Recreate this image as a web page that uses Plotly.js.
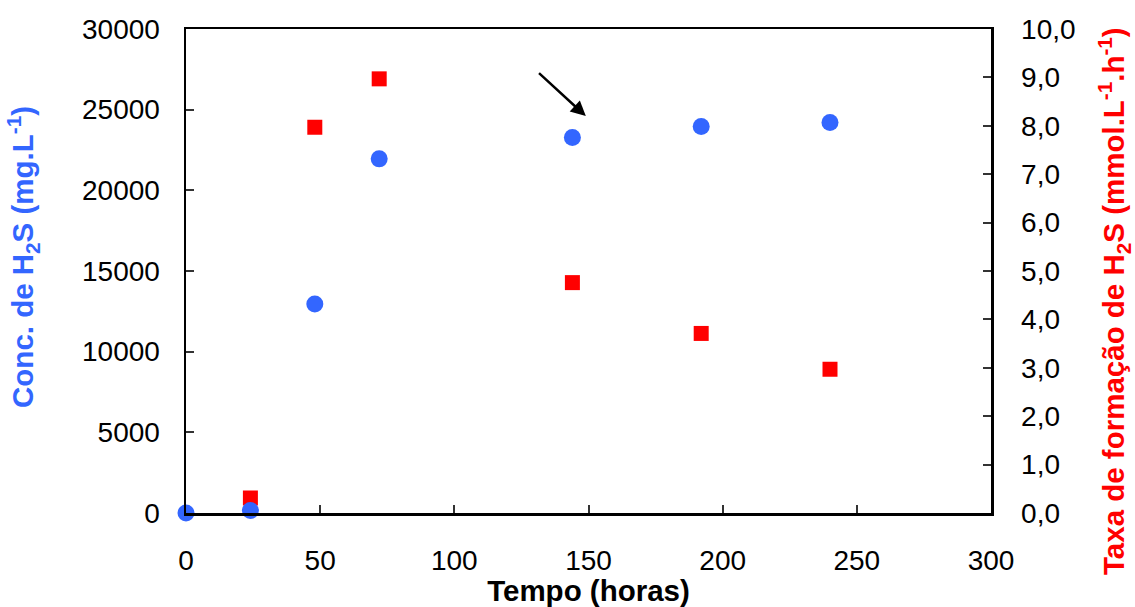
<!DOCTYPE html>
<html>
<head>
<meta charset="utf-8">
<script src="https://cdn.plot.ly/plotly-3.0.1.min.js"></script>
<style>html,body{margin:0;padding:0;background:#fff;}#chart{width:1135px;height:607px;}</style>
</head>
<body>
<div id="chart"></div>
<script>
// Time (hours)
const tempoConc = [0, 24, 48, 72, 144, 192, 240];
// H2S concentration (mg.L-1)
const concH2S = [0, 150, 12950, 21950, 23280, 23950, 24200];
// Time for formation rate
const tempoTaxa = [24, 48, 72, 144, 192, 240];
// H2S formation rate (mmol.L-1.h-1)
const taxaH2S = [0.31, 7.97, 8.97, 4.76, 3.71, 2.97];
// Arrow annotation (data coords): tail -> head
const arrowTail = [131, 27350];
const arrowHead = [149, 24600];

const font = 'Liberation Sans, Arial, sans-serif';
const blue = '#3366ff';
const red = '#ff0000';

const traces = [
  {
    x: tempoTaxa, y: taxaH2S, type: 'scatter', mode: 'markers', yaxis: 'y',
    marker: {symbol: 'square', size: 15, color: red}, cliponaxis: false,
    name: 'Taxa'
  },
  {
    x: tempoConc, y: concH2S, type: 'scatter', mode: 'markers', yaxis: 'y2',
    marker: {symbol: 'circle', size: 17, color: blue}, cliponaxis: false,
    name: 'Conc'
  }
];

const layout = {
  width: 1135, height: 607,
  margin: {l: 186, r: 144, t: 29, b: 94},
  paper_bgcolor: '#fff', plot_bgcolor: '#fff',
  showlegend: false,
  separators: ',.',
  font: {family: font, size: 28, color: '#000'},
  xaxis: {
    range: [0, 300], dtick: 50, tick0: 0,
    showline: true, linecolor: '#000', linewidth: 2.5, mirror: true,
    ticks: 'inside', ticklen: 8, tickwidth: 2, tickcolor: '#333',
    showgrid: false, zeroline: false,
    ticklabelstandoff: 21,
    tickfont: {family: font, size: 28, color: '#000'},
    title: {text: 'Tempo (horas)', font: {family: font, size: 29.5, color: '#000', weight: 'bold'}, standoff: 2}
  },
  yaxis: {
    side: 'right',
    range: [0, 10], dtick: 1, tick0: 0, tickformat: '.1f',
    showline: true, linecolor: '#000', linewidth: 2.5,
    ticks: 'inside', ticklen: 8, tickwidth: 2, tickcolor: '#333',
    showgrid: false, zeroline: false,
    ticklabelstandoff: 22,
    tickfont: {family: font, size: 28, color: '#000'}
  },
  yaxis2: {
    side: 'left', overlaying: 'y',
    range: [0, 30000], dtick: 5000, tick0: 0, tickformat: 'd',
    showline: true, linecolor: '#000', linewidth: 2.5,
    ticks: 'inside', ticklen: 8, tickwidth: 2, tickcolor: '#333',
    showgrid: false, zeroline: false,
    ticklabelstandoff: 18,
    tickfont: {family: font, size: 28, color: '#000'}
  },
  annotations: [
    {
      x: arrowHead[0], y: arrowHead[1], xref: 'x', yref: 'y2',
      ax: arrowTail[0], ay: arrowTail[1], axref: 'x', ayref: 'y2',
      text: '', showarrow: true, arrowhead: 2, arrowsize: 1.2, arrowwidth: 2.5, arrowcolor: '#000'
    },
    {
      text: 'Conc. de H<sub>2</sub>S (mg.L<sup>-1</sup>)',
      xref: 'paper', yref: 'paper', x: 0, y: 0.529, xshift: -163,
      xanchor: 'center', yanchor: 'middle', textangle: -90, showarrow: false,
      font: {family: font, size: 29.5, color: blue, weight: 'bold'}
    },
    {
      text: 'Taxa de formação de H<sub>2</sub>S (mmol.L<sup>-1</sup>.h<sup>-1</sup>)',
      xref: 'paper', yref: 'paper', x: 1, y: 0.438, xshift: 123,
      xanchor: 'center', yanchor: 'middle', textangle: -90, showarrow: false,
      font: {family: font, size: 29.5, color: red, weight: 'bold'}
    }
  ]
};

Plotly.newPlot('chart', traces, layout, {displayModeBar: false, staticPlot: true});
</script>
</body>
</html>
